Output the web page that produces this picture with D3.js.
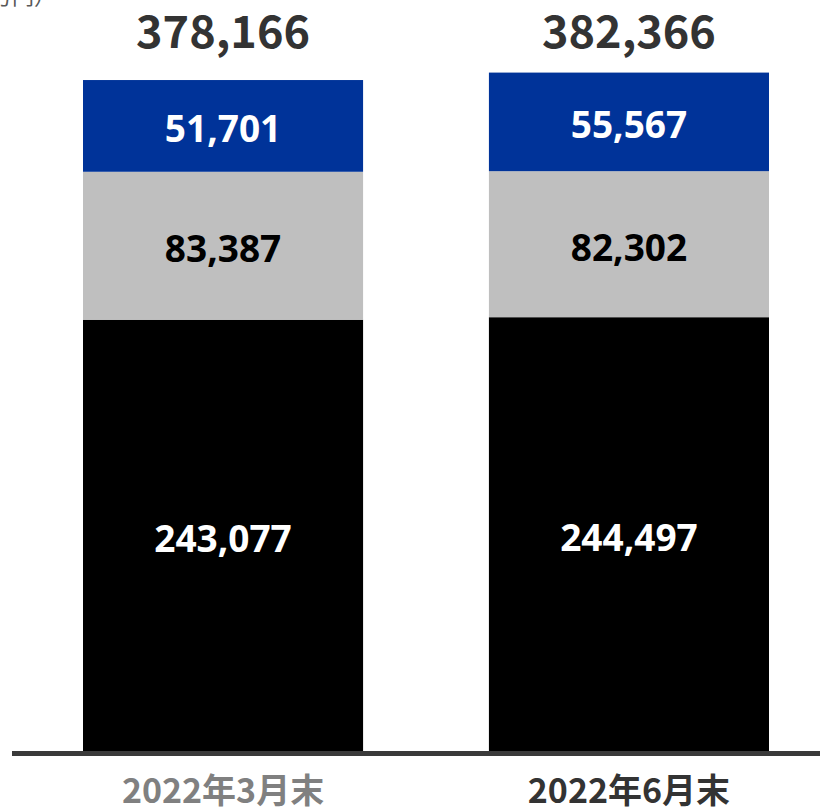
<!DOCTYPE html>
<html><head><meta charset="utf-8">
<script src="https://cdn.jsdelivr.net/npm/d3@7"></script>
<style>html,body{margin:0;padding:0;background:#fff;}</style>
</head><body>
<script>
const categories = ["2022年3月末", "2022年6月末"];
const seriesBottom = [243077, 244497];
const seriesMiddle = [83387, 82302];
const seriesTop = [51701, 55567];
const totals = [378166, 382366];
const unitLabel = "（百万円）";

const W = 820, H = 808;
const svg = d3.select("body").append("svg").attr("width", W).attr("height", H);

const x = d3.scaleBand().domain(categories).range([83, 769]).paddingInner(0.31).paddingOuter(0);
const y = d3.scaleLinear().domain([0, 400000]).range([751, 41.3]);

const series = [
  {vals: seriesBottom, color: "#000000", text: "#ffffff"},
  {vals: seriesMiddle, color: "#bfbfbf", text: "#000000"},
  {vals: seriesTop, color: "#003399", text: "#ffffff"}
];

categories.forEach((c, i) => {
  let base = 0;
  series.forEach(s => {
    const v = s.vals[i];
    const y0 = y(base), y1 = y(base + v);
    svg.append("rect").attr("x", x(c)).attr("width", x.bandwidth())
      .attr("y", y1).attr("height", y0 - y1).attr("fill", s.color);
    svg.append("text").attr("x", x(c) + x.bandwidth() / 2).attr("y", (y0 + y1) / 2 + 2)
      .attr("text-anchor", "middle").attr("dominant-baseline", "central")
      .attr("font-family", "'Open Sans', sans-serif").attr("font-weight", 700)
      .attr("font-size", 37).attr("fill", s.text).text(d3.format(",")(v));
    base += v;
  });
  svg.append("text").attr("x", x(c) + x.bandwidth() / 2).attr("y", 48)
    .attr("text-anchor", "middle")
    .attr("font-family", "'Noto Sans CJK JP', sans-serif").attr("font-weight", 700)
    .attr("font-size", 45).attr("fill", "#333333").text(d3.format(",")(totals[i]));
  svg.append("text").attr("x", x(c) + x.bandwidth() / 2).attr("y", 803)
    .attr("text-anchor", "middle")
    .attr("font-family", "'Noto Sans CJK JP', sans-serif").attr("font-weight", 700)
    .attr("font-size", 34).attr("fill", i === 0 ? "#808080" : "#333333").text(c);
});

// axis baseline
svg.append("line").attr("x1", 12).attr("x2", 820).attr("y1", 753.5).attr("y2", 753.5)
  .attr("stroke", "#3a3a3a").attr("stroke-width", 5);

// unit label (cropped at the top edge)
svg.append("text").attr("x", 56).attr("y", 4).attr("text-anchor", "end")
  .attr("font-family", "'Noto Sans CJK JP', sans-serif").attr("font-size", 22)
  .attr("fill", "#595959").text(unitLabel);
</script>
</body></html>
